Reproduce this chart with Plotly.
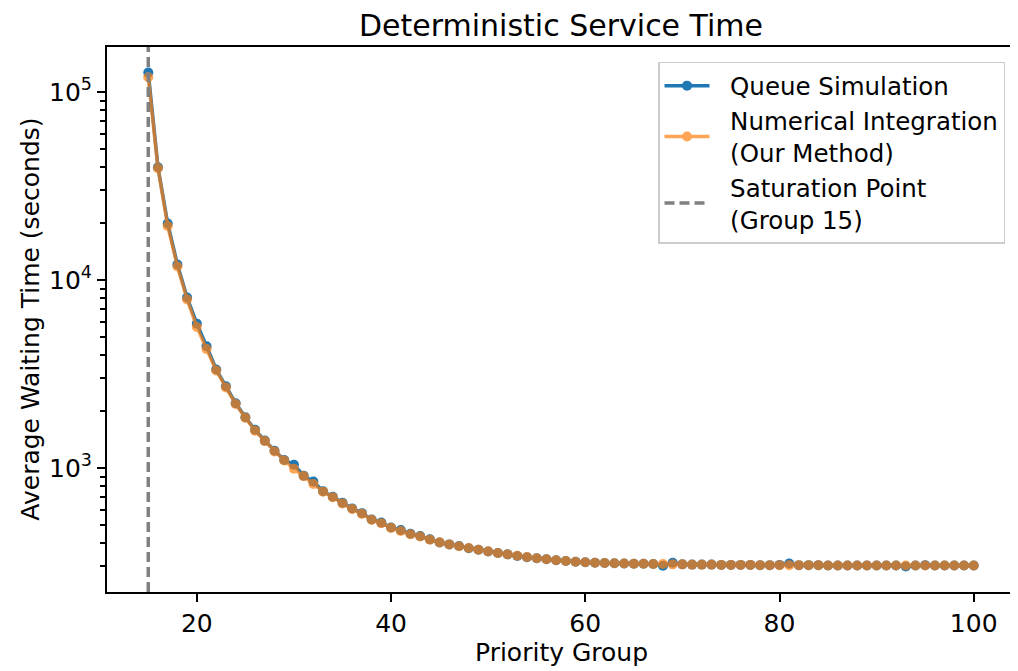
import plotly.graph_objects as go

groups = list(range(15, 101))

sim_wait = [
    127000, 39800, 20000, 12100, 8070, 5860, 4440, 3340, 2720, 2210,
    1860, 1595, 1398, 1236, 1103, 1040, 910, 846, 752, 703,
    652, 608, 575, 532, 512, 482, 467, 446, 434, 417,
    401, 392, 384, 374, 367, 359, 353, 347, 340, 335,
    331, 327, 323, 320, 317, 315, 313, 312, 311, 310,
    309, 309, 308, 302, 313, 307, 306, 306, 306, 305,
    305, 305, 305, 304, 304, 305, 310, 304, 304, 304,
    303, 303, 303, 303, 303, 303, 303, 303, 299, 303,
    304, 303, 303, 303, 303, 303,
]

num_wait = [
    120000, 39300, 19400, 11800, 7870, 5630, 4290, 3300, 2680, 2190,
    1850, 1580, 1390, 1225, 1095, 990, 905, 822, 748, 698,
    648, 605, 570, 530, 508, 480, 462, 444, 432, 415,
    402, 392, 383, 375, 367, 360, 353, 347, 341, 336,
    331, 327, 323, 320, 317, 315, 313, 312, 311, 310,
    309, 309, 308, 308, 307, 307, 306, 306, 306, 305,
    305, 305, 305, 304, 304, 304, 304, 304, 304, 304,
    303, 303, 303, 303, 303, 303, 303, 303, 303, 303,
    303, 303, 303, 303, 303, 303,
]

saturation_group = 15

x_ticks = [20, 40, 60, 80, 100]
y_ticks = [1e3, 1e4, 1e5]
y_tick_text = ["10<sup>3</sup>", "10<sup>4</sup>", "10<sup>5</sup>"]
y_minor = [m * 10 ** e for e in (2, 3, 4, 5) for m in range(2, 10)]

legend_names = [
    ["Queue Simulation"],
    ["Numerical Integration", "(Our Method)"],
    ["Saturation Point", "(Group 15)"],
]

FONT = "DejaVu Sans"
# the page body has an 8px margin: size the figure so it fits the window exactly
OFF = 8
W, H = 1018 - OFF, 671 - OFF
PAD = "\u00a0\u00a0"


def lname(lines):
    return "<br>".join(PAD + s for s in lines)


fig = go.Figure()
fig.add_trace(go.Scatter(
    x=groups, y=sim_wait, mode="lines+markers", name=lname(legend_names[0]),
    line=dict(color="#1f77b4", width=3.5),
    marker=dict(color="#1f77b4", size=10),
))
fig.add_trace(go.Scatter(
    x=groups, y=num_wait, mode="lines+markers",
    name=lname(legend_names[1]),
    line=dict(color="#ff7f0e", width=3.5),
    marker=dict(color="#ff7f0e", size=10),
    opacity=0.7,
))
fig.add_shape(
    type="line", xref="x", yref="paper",
    x0=saturation_group, x1=saturation_group, y0=0, y1=1,
    line=dict(color="#808080", width=3.5, dash="10px,5px"),
    showlegend=True, name=lname(legend_names[2]),
)

fig.update_layout(
    width=W, height=H,
    margin=dict(l=107 - OFF, r=1, t=47 - OFF, b=79),
    paper_bgcolor="white", plot_bgcolor="white",
    font=dict(family=FONT, size=25, color="black"),
    showlegend=True,
    title=dict(text="Deterministic Service Time", x=0.5, xref="paper",
               xanchor="center", y=1 - (25 - OFF) / H, yref="container",
               yanchor="middle", font=dict(size=30, family=FONT)),
    legend=dict(x=0.989, y=0.973, xanchor="right", yanchor="top",
                bgcolor="white", bordercolor="#cccccc", borderwidth=1.5,
                font=dict(size=24.5, family=FONT), itemwidth=45,
                tracegroupgap=0),
    xaxis=dict(range=[10.75, 104.25], tickvals=x_ticks,
               showgrid=False, zeroline=False,
               showline=True, mirror=True, linecolor="black", linewidth=2,
               ticks="outside", ticklen=8, tickwidth=2, tickcolor="black",
               tickfont=dict(size=25)),
    yaxis=dict(type="log", range=[2.34, 5.24], tickvals=y_ticks,
               ticktext=y_tick_text, showgrid=False, zeroline=False,
               showline=True, mirror=True, linecolor="black", linewidth=2,
               ticks="outside", ticklen=8, tickwidth=2, tickcolor="black",
               tickfont=dict(size=25),
               minor=dict(tickmode="array", tickvals=y_minor, ticks="outside",
                          ticklen=5, tickwidth=1.5, tickcolor="black",
                          showgrid=False)),
    annotations=[
        dict(text="Priority Group", xref="paper", yref="paper", x=0.5,
             y=(592 - 652) / 545, xanchor="center", yanchor="middle",
             showarrow=False, font=dict(size=25, family=FONT)),
        dict(text="Average Waiting Time (seconds)", xref="paper",
             yref="paper", x=(30 - 107) / 910, y=0.5,
             xanchor="center", yanchor="middle", textangle=-90,
             showarrow=False, font=dict(size=25, family=FONT)),
    ],
)

fig.write_html("out.html")
